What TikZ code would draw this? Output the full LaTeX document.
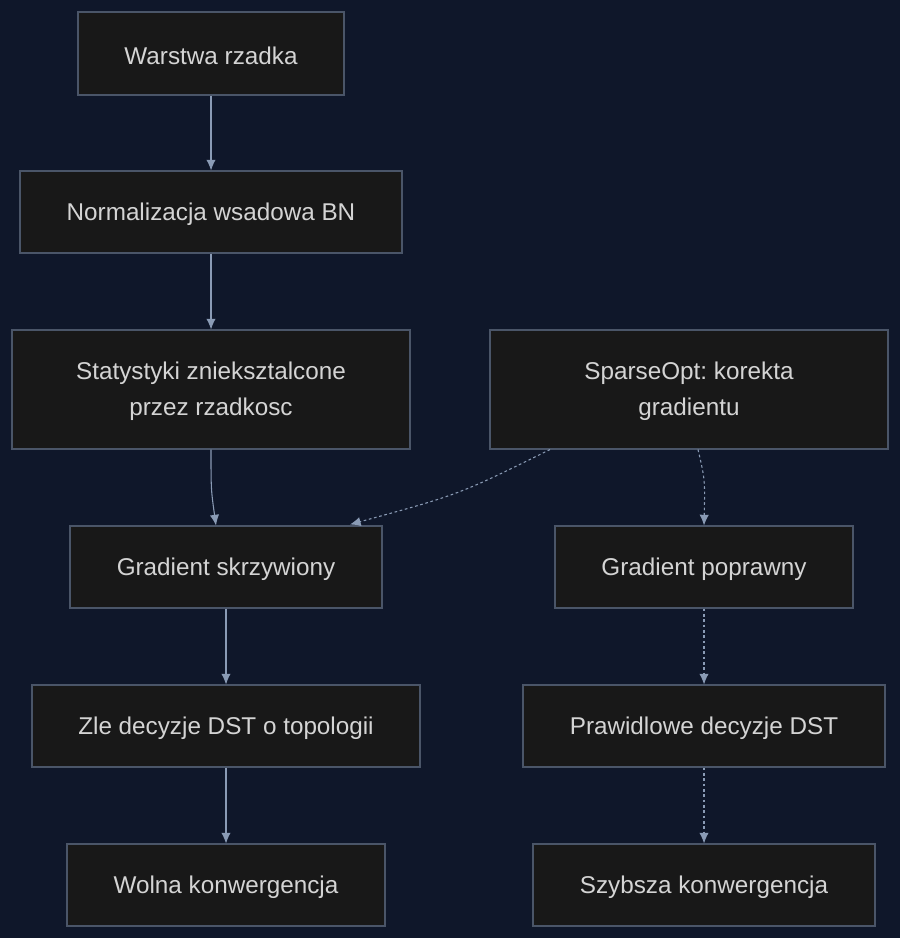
\documentclass[tikz,border=0pt]{standalone}
\usepackage{fontspec}
\setmainfont{Liberation Sans}
\usetikzlibrary{arrows.meta,calc}
\definecolor{bg}{HTML}{0F172A}
\definecolor{nf}{HTML}{181818}
\definecolor{nb}{HTML}{4A5568}
\definecolor{tx}{HTML}{D4D4D4}
\definecolor{ar}{HTML}{8A9BB5}
\begin{document}
\frenchspacing
\begin{tikzpicture}[x=0.75pt,y=-0.75pt,
 box/.style={draw=nb,fill=nf,text=tx,line width=0.8pt,inner sep=0pt,align=center,font=\fontsize{18.2pt}{27pt}\selectfont},
 lbl/.style={text=tx,align=center,font=\fontsize{18.2pt}{27pt}\selectfont,inner sep=0pt},
 e/.style={draw=ar,line width=0.8pt,-{Latex[length=8pt,width=7pt]}},
 d/.style={e,dash pattern=on 2pt off 2pt}]
\fill[bg] (0,0) rectangle (900,938);
\useasboundingbox (0,0) rectangle (900,938);
\node[box,minimum width=199.5pt,minimum height=62.25pt] (A) at (211,53.5) {};
\node[box,minimum width=286.5pt,minimum height=61.5pt] (B) at (211,212) {};
\node[box,minimum width=298.5pt,minimum height=89.25pt] (C) at (211,389.5) {};
\node[box,minimum width=298.5pt,minimum height=89.25pt] (D) at (689,389.5) {};
\node[box,minimum width=234pt,minimum height=61.5pt] (E) at (226,567) {};
\node[box,minimum width=223.5pt,minimum height=61.5pt] (F) at (704,567) {};
\node[box,minimum width=291pt,minimum height=61.5pt] (G) at (226,726) {};
\node[box,minimum width=271.5pt,minimum height=61.5pt] (H) at (704,726) {};
\node[box,minimum width=238.5pt,minimum height=61.5pt] (I) at (226,885) {};
\node[box,minimum width=256.5pt,minimum height=61.5pt] (J) at (704,885) {};
\node[lbl] (tA) at ($(A)+(0,2)$) {Warstwa rzadka};
\node[lbl] (tB) at ($(B)+(0,2)$) {Normalizacja wsadowa BN};
\node[lbl] (tC) at ($(C)+(0,2)$) {Statystyki znieksztalcone\\przez rzadkosc};
\node[lbl] (tD) at ($(D)+(0,2)$) {SparseOpt: korekta\\gradientu};
\node[lbl] (tE) at ($(E)+(0,2)$) {Gradient skrzywiony};
\node[lbl] (tF) at ($(F)+(0,2)$) {Gradient poprawny};
\node[lbl] (tG) at ($(G)+(0,2)$) {Zle decyzje DST o topologii};
\node[lbl] (tH) at ($(H)+(0,2)$) {Prawidlowe decyzje DST};
\node[lbl] (tI) at ($(I)+(0,2)$) {Wolna konwergencja};
\node[lbl] (tJ) at ($(J)+(0,2)$) {Szybsza konwergencja};
\draw[e] (A) -- (B);
\draw[e] (B) -- (C);
\draw[e] (C.south) .. controls ($(C.south)+(0,40)$) .. ($(E.north)+(-10,0)$);
\draw[d] ($(D.south)+(-139,0)$) .. controls ($(D.south)+(-230,45)$) .. ($(E.north)+(124,-1)$);
\draw[d] ($(D.south)+(9,0)$) .. controls ($(D.south)+(16,30)$) .. (F.north);
\draw[e] (E) -- (G);
\draw[e] (G) -- (I);
\draw[d] (F) -- (H);
\draw[d] (H) -- (J);
\end{tikzpicture}
\end{document}
